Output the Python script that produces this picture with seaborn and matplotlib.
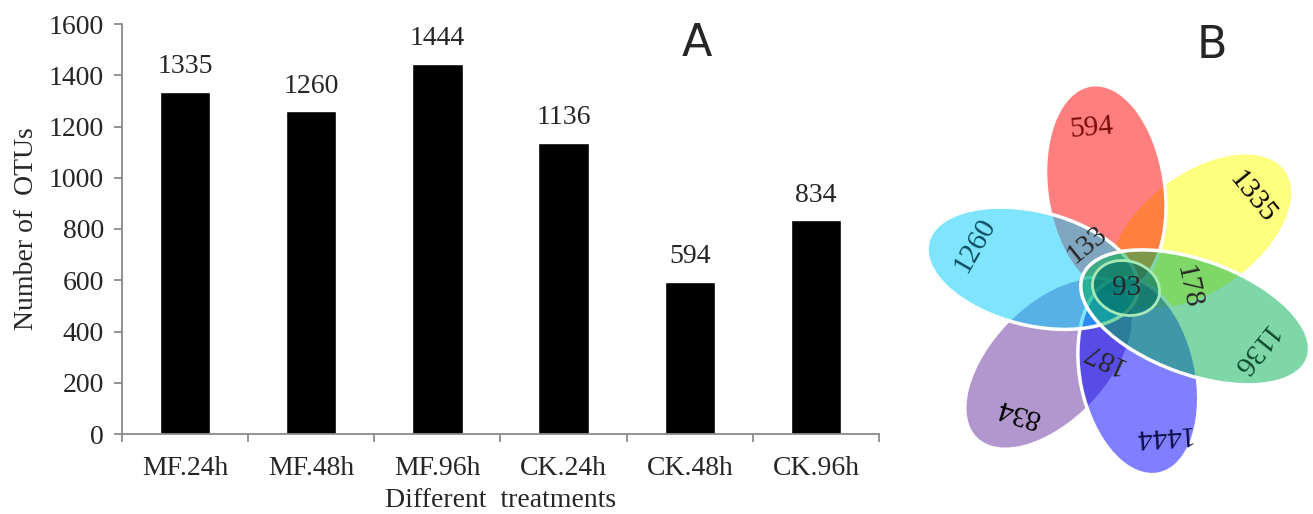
import numpy as np
import matplotlib
matplotlib.use("Agg")
import matplotlib.pyplot as plt
from matplotlib.patches import Ellipse
import seaborn as sns

# Data
treatments = ["MF.24h", "MF.48h", "MF.96h", "CK.24h", "CK.48h", "CK.96h"]
otu_counts = [1335, 1260, 1444, 1136, 594, 834]

# Venn petals, clockwise from the top
petal_sets = ["CK.48h", "MF.24h", "CK.24h", "MF.96h", "CK.96h", "MF.48h"]
shared_labels = ["133", "93", "178", "187"]

sns.set_style("ticks")
plt.rcParams["font.family"] = ["Liberation Serif", "DejaVu Serif"]

W, H = 1313, 514
FS = 20
fig = plt.figure(figsize=(W / 100, H / 100), dpi=100)

# ---------- panel A: bar chart ----------
ax = fig.add_axes([122 / W, 80 / H, 757 / W, 410 / H])
sns.barplot(x=treatments, y=otu_counts, color="black", saturation=1,
            width=0.4, ax=ax)
ax.bar_label(ax.containers[0], padding=9, fontsize=FS)

ax.set_xlim(-0.5, len(treatments) - 0.5)
ax.set_ylim(0, 1600)
ax.set_yticks(np.arange(0, 1601, 200))
ax.set_xticks(np.arange(len(treatments) + 1) - 0.5)
ax.set_xticklabels([])
ax.set_xticks(np.arange(len(treatments)), minor=True)
ax.set_xticklabels(treatments, minor=True)
ax.tick_params(axis="x", which="minor", length=0, pad=16, labelsize=FS)
ax.tick_params(axis="x", which="major", length=6, width=1.3, color="#8a8a8a")
ax.tick_params(axis="y", length=6, width=1.3, color="#8a8a8a", pad=7,
               labelsize=FS)
for s in ["top", "right"]:
    ax.spines[s].set_visible(False)
for s in ["left", "bottom"]:
    ax.spines[s].set_color("#8a8a8a")
    ax.spines[s].set_linewidth(1.3)
ax.set_xlabel("Different  treatments", fontsize=FS, labelpad=5)
ax.set_ylabel("Number of  OTUs", fontsize=FS, labelpad=7)

fig.text(697 / W, 1 - 44 / H, "A", fontsize=32, ha="center", va="center",
         family=["Liberation Sans Narrow", "DejaVu Sans"])
fig.text(1212 / W, 1 - 45 / H, "B", fontsize=32, ha="center", va="center",
         family=["Liberation Sans Narrow", "DejaVu Sans"])

# ---------- panel B: flower Venn diagram ----------
ax2 = fig.add_axes([880 / W, 0, 433 / W, 454 / H])
ax2.set_xlim(-240, 193)
ax2.set_ylim(-224, 230)
ax2.axis("off")

petal_colors = [(1, 0, 0, 0.5), (1, 1, 0, 0.5), (0.0, 0.69, 0.32, 0.5),
                (0, 0, 1, 0.5), (0.40, 0.19, 0.62, 0.5), (0.0, 0.80, 1.0, 0.5)]
petal_angle = [98, 36, -20, -78, -134, 166]
petal_a = [105, 105, 120, 100, 105, 108]
petal_b = [59, 60, 57, 58, 59, 57]
petal_d = [102, 100, 80, 88, 102, 90]
petal_z = [2, 1, 6, 4, 3, 5]

for i in range(len(petal_sets)):
    t = np.deg2rad(petal_angle[i])
    cx, cy = petal_d[i] * np.cos(t), petal_d[i] * np.sin(t)
    ax2.add_patch(Ellipse((cx, cy), 2 * petal_a[i], 2 * petal_b[i],
                          angle=petal_angle[i], facecolor=petal_colors[i],
                          edgecolor="white", lw=2.5, zorder=petal_z[i]))

ax2.add_patch(Ellipse((6, 2), 68, 54, angle=-15,
                      facecolor=(0.0, 0.42, 0.38, 0.6),
                      edgecolor="#a8eab8", lw=2, zorder=7))

# petal labels: the unique counts equal the per-sample totals
count_of = dict(zip(treatments, otu_counts))
label_r = [164, 161, 146, 151, 159, 152]
label_t = [100, 35, -24, -74, -130, 163]
label_rot = [5, -51, -129, -176, 163, 60]
label_col = ["#7a0a0a", "black", "#0b4a2a", "#10104a", "black", "#0b4d5e"]
for i, name in enumerate(petal_sets):
    t = np.deg2rad(label_t[i])
    ax2.text(label_r[i] * np.cos(t), label_r[i] * np.sin(t),
             str(count_of[name]), rotation=label_rot[i], fontsize=21,
             color=label_col[i], ha="center", va="center",
             rotation_mode="anchor", zorder=10)

shared_xy = [(-33, 45), (7, 2), (68, 3), (-17, -67)]
shared_rot = [39, 0, -78, 155]
for lab, (x, y), r in zip(shared_labels, shared_xy, shared_rot):
    ax2.text(x, y, lab, rotation=r, fontsize=21, ha="center", va="center",
             rotation_mode="anchor", zorder=10)

fig.savefig("out.png", dpi=100)
